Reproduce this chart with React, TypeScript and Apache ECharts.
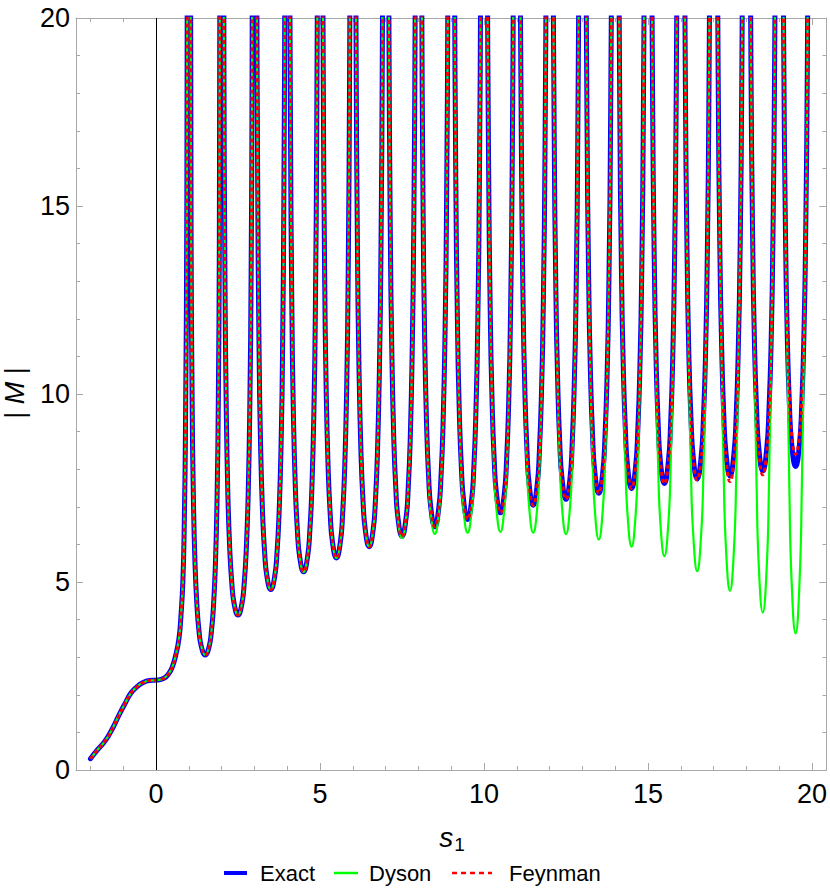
import React, { useEffect, useRef } from "react";
import * as echarts from "echarts";

// Read-off points of the smooth part before the first pole (shared by all three curves)
const leadIn: [number, number][] = [
  [-2.0, 0.3], [-1.8, 0.52], [-1.53, 0.8], [-1.3, 1.15], [-1.13, 1.46], [-0.95, 1.76],
  [-0.77, 2.04], [-0.6, 2.2], [-0.41, 2.32], [-0.2, 2.38], [0, 2.39], [0.24, 2.44],
  [0.4, 2.58], [0.5, 2.75], [0.6, 3.05], [0.7, 3.5], [0.76, 4.1], [0.82, 5.05],
  [0.86, 6.5], [0.9, 9.3], [0.94, 15.2], [0.97, 30],
];

// left pole of each dip, and the sample offsets read inside every dip
const dipStarts = [1, 2, 3, 4, 5, 6, 7, 8, 9, 10, 11, 12, 13, 14, 15, 16, 17, 18, 19];
const offsets = [0.04, 0.07, 0.1, 0.14, 0.19, 0.25, 0.31, 0.38, 0.5, 0.62, 0.69, 0.75, 0.81, 0.86, 0.9, 0.93, 0.96];

const exactDips: number[][] = [
  [24.4, 14.0, 9.9, 7.2, 5.45, 4.33, 3.7, 3.29, 3.06, 3.29, 3.7, 4.33, 5.45, 7.2, 9.9, 14.0, 24.4],
  [32.9, 18.9, 13.3, 9.7, 7.33, 5.83, 4.98, 4.43, 4.12, 4.43, 4.98, 5.83, 7.33, 9.7, 13.3, 18.9, 32.9],
  [38.3, 22.0, 15.6, 11.3, 8.54, 6.79, 5.8, 5.16, 4.8, 5.16, 5.8, 6.79, 8.54, 11.3, 15.6, 22.0, 38.3],
  [42.1, 24.2, 17.1, 12.4, 9.38, 7.45, 6.37, 5.67, 5.27, 5.67, 6.37, 7.45, 9.38, 12.4, 17.1, 24.2, 42.1],
  [45.0, 25.9, 18.3, 13.3, 10.0, 7.97, 6.82, 6.06, 5.64, 6.06, 6.82, 7.97, 10.0, 13.3, 18.3, 25.9, 45.0],
  [47.4, 27.3, 19.2, 14.0, 10.6, 8.4, 7.18, 6.39, 5.94, 6.39, 7.18, 8.4, 10.6, 14.0, 19.2, 27.3, 47.4],
  [49.6, 28.5, 20.1, 14.6, 11.1, 8.78, 7.51, 6.68, 6.21, 6.68, 7.51, 8.78, 11.1, 14.6, 20.1, 28.5, 49.6],
  [51.6, 29.7, 21.0, 15.2, 11.5, 9.15, 7.82, 6.96, 6.47, 6.96, 7.82, 9.15, 11.5, 15.2, 21.0, 29.7, 51.6],
  [53.1, 30.6, 21.6, 15.7, 11.9, 9.42, 8.05, 7.16, 6.66, 7.16, 8.05, 9.42, 11.9, 15.7, 21.6, 30.6, 53.1],
  [54.6, 31.4, 22.2, 16.1, 12.2, 9.67, 8.27, 7.35, 6.84, 7.35, 8.27, 9.67, 12.2, 16.1, 22.2, 31.4, 54.6],
  [56.2, 32.3, 22.8, 16.5, 12.5, 9.95, 8.51, 7.57, 7.04, 7.57, 8.51, 9.95, 12.5, 16.5, 22.8, 32.3, 56.2],
  [57.5, 33.0, 23.3, 16.9, 12.8, 10.2, 8.7, 7.74, 7.2, 7.74, 8.7, 10.2, 12.8, 16.9, 23.3, 33.0, 57.5],
  [58.7, 33.8, 23.8, 17.3, 13.1, 10.4, 8.9, 7.91, 7.36, 7.91, 8.9, 10.4, 13.1, 17.3, 23.8, 33.8, 58.7],
  [59.8, 34.4, 24.3, 17.6, 13.3, 10.6, 9.06, 8.05, 7.49, 8.05, 9.06, 10.6, 13.3, 17.6, 24.3, 34.4, 59.8],
  [60.8, 35.0, 24.7, 17.9, 13.6, 10.8, 9.21, 8.19, 7.62, 8.19, 9.21, 10.8, 13.6, 17.9, 24.7, 35.0, 60.8],
  [61.8, 35.5, 25.1, 18.2, 13.8, 10.9, 9.36, 8.32, 7.74, 8.32, 9.36, 10.9, 13.8, 18.2, 25.1, 35.5, 61.8],
  [62.4, 35.9, 25.3, 18.4, 13.9, 11.1, 9.45, 8.41, 7.82, 8.41, 9.45, 11.1, 13.9, 18.4, 25.3, 35.9, 62.4],
  [63.4, 36.5, 25.8, 18.7, 14.2, 11.2, 9.61, 8.55, 7.95, 8.55, 9.61, 11.2, 14.2, 18.7, 25.8, 36.5, 63.4],
  [64.4, 37.0, 26.1, 19.0, 14.4, 11.4, 9.76, 8.68, 8.07, 8.68, 9.76, 11.4, 14.4, 19.0, 26.1, 37.0, 64.4],
];

const dysonDips: number[][] = [
  ...exactDips.slice(0, 6),
  [49.6, 28.5, 20.1, 14.6, 11.1, 8.78, 7.5, 6.65, 6.17, 6.65, 7.5, 8.78, 11.1, 14.6, 20.1, 28.5, 49.6],
  [51.6, 29.7, 21.0, 15.2, 11.5, 9.15, 7.72, 6.8, 6.28, 6.8, 7.72, 9.15, 11.5, 15.2, 21.0, 29.7, 51.6],
  [53.1, 30.6, 21.6, 15.7, 11.9, 9.4, 7.85, 6.87, 6.31, 6.87, 7.85, 9.4, 11.9, 15.7, 21.6, 30.6, 53.1],
  [54.6, 31.4, 22.2, 16.1, 12.2, 9.62, 7.98, 6.93, 6.33, 6.93, 7.98, 9.62, 12.2, 16.1, 22.2, 31.4, 54.6],
  [56.2, 32.3, 22.8, 16.5, 12.5, 9.88, 8.1, 6.95, 6.31, 6.95, 8.1, 9.88, 12.5, 16.5, 22.8, 32.3, 56.2],
  [57.5, 33.0, 23.3, 16.9, 12.8, 10.1, 8.2, 6.97, 6.27, 6.97, 8.2, 10.1, 12.8, 16.9, 23.3, 33.0, 57.5],
  [58.7, 33.8, 23.8, 17.3, 13.1, 10.3, 8.25, 6.9, 6.13, 6.9, 8.25, 10.3, 13.1, 17.3, 23.8, 33.8, 58.7],
  [59.8, 34.4, 24.3, 17.6, 13.3, 10.4, 8.2, 6.75, 5.94, 6.75, 8.2, 10.4, 13.3, 17.6, 24.3, 34.4, 59.8],
  [60.8, 35.0, 24.7, 17.9, 13.6, 10.5, 8.1, 6.55, 5.69, 6.55, 8.1, 10.5, 13.6, 17.9, 24.7, 35.0, 60.8],
  [61.8, 35.5, 25.1, 18.2, 13.8, 10.6, 7.95, 6.25, 5.29, 6.25, 7.95, 10.6, 13.8, 18.2, 25.1, 35.5, 61.8],
  [62.4, 35.9, 25.3, 18.4, 13.9, 10.7, 7.8, 5.85, 4.76, 5.85, 7.8, 10.7, 13.9, 18.4, 25.3, 35.9, 62.4],
  [63.4, 36.5, 25.8, 18.7, 14.2, 10.9, 7.65, 5.4, 4.19, 5.4, 7.65, 10.9, 14.2, 18.7, 25.8, 36.5, 63.4],
  [64.4, 37.0, 26.1, 19.0, 14.4, 11.0, 7.5, 5.0, 3.63, 5.0, 7.5, 11.0, 14.4, 19.0, 26.1, 37.0, 64.4],
];

const feynmanDips: number[][] = [
  ...exactDips.slice(0, 15),
  [61.8, 35.5, 25.1, 18.2, 13.8, 10.9, 9.34, 8.28, 7.72, 8.28, 9.34, 10.9, 13.8, 18.2, 25.1, 35.5, 61.8],
  [62.4, 35.9, 25.3, 18.4, 13.9, 11.0, 9.35, 8.28, 7.67, 8.28, 9.35, 11.0, 13.9, 18.4, 25.3, 35.9, 62.4],
  [63.4, 36.5, 25.8, 18.7, 14.2, 11.2, 9.5, 8.45, 7.85, 8.45, 9.5, 11.2, 14.2, 18.7, 25.8, 36.5, 63.4],
  [64.4, 37.0, 26.1, 19.0, 14.4, 11.6, 10.0, 8.9, 8.4, 8.9, 10.0, 11.6, 14.4, 19.0, 26.1, 37.0, 64.4],
];

const xMajor = [0, 5, 10, 15, 20];
const xMinor = [-2, -1, 1, 2, 3, 4, 6, 7, 8, 9, 11, 12, 13, 14, 16, 17, 18, 19];
const seriesNames = ["Exact", "Dyson", "Feynman"];

const FONT = "'Liberation Sans', Arial, sans-serif";
const FRAME = "#a8a8a8";

function buildPoints(rows: number[][]): [number, number][] {
  const pts: [number, number][] = leadIn.map((p) => [p[0], p[1]] as [number, number]);
  rows.forEach((row, i) => {
    row.forEach((y, j) => {
      pts.push([+(dipStarts[i] + offsets[j]).toFixed(3), y]);
    });
  });
  return pts;
}

export default function App() {
  const ref = useRef<HTMLDivElement>(null);
  useEffect(() => {
    if (!ref.current) return;
    const chart = echarts.init(ref.current, undefined, { renderer: "svg" });
    const xBase = { type: "value" as const, min: -2.44, max: 20.44, splitLine: { show: false } };
    const xAxes = [
      {
        ...xBase, position: "bottom",
        axisLine: { show: true, onZero: false, lineStyle: { color: FRAME, width: 1 } },
        axisTick: { show: true, inside: true, length: 7, customValues: xMajor, lineStyle: { color: FRAME } },
        axisLabel: { show: true, customValues: xMajor, color: "#000", fontSize: 27, fontFamily: FONT, margin: 10 },
      },
      {
        ...xBase, position: "bottom",
        axisLine: { show: false, onZero: false },
        axisTick: { show: true, inside: true, length: 4, customValues: xMinor, lineStyle: { color: FRAME } },
        axisLabel: { show: false },
      },
      {
        ...xBase, position: "top",
        axisLine: { show: true, onZero: false, lineStyle: { color: FRAME, width: 1 } },
        axisTick: { show: true, inside: true, length: 7, customValues: xMajor, lineStyle: { color: FRAME } },
        axisLabel: { show: false },
      },
      {
        ...xBase, position: "top",
        axisLine: { show: false, onZero: false },
        axisTick: { show: true, inside: true, length: 4, customValues: xMinor, lineStyle: { color: FRAME } },
        axisLabel: { show: false },
      },
    ];
    const yBase = {
      type: "value" as const, min: 0, max: 20, interval: 5, splitLine: { show: false },
      minorTick: { show: true, splitNumber: 5, length: 4, lineStyle: { color: FRAME } },
      axisTick: { show: true, inside: true, length: 7, lineStyle: { color: FRAME } },
      axisLine: { show: true, onZero: false, lineStyle: { color: FRAME, width: 1 } },
    };
    const yAxes = [
      { ...yBase, position: "left", axisLabel: { show: true, color: "#000", fontSize: 27, fontFamily: FONT, margin: 6 } },
      { ...yBase, position: "right", axisLabel: { show: false } },
    ];

    const mk = (name: string, rows: number[][], lineStyle: any) => ({
      name,
      type: "line",
      xAxisIndex: 0,
      yAxisIndex: 0,
      data: buildPoints(rows),
      showSymbol: false,
      symbol: "none",
      smooth: 0.5,
      clip: true,
      lineStyle,
      silent: true,
    });

    // legend (drawn as graphic: swatches + texts)
    const legendY = 873;
    const legendGraphic: any[] = [
      { type: "line", shape: { x1: 224, y1: legendY, x2: 247, y2: legendY }, style: { stroke: "#0000ff", lineWidth: 4 } },
      { type: "text", x: 260, y: legendY, style: { text: seriesNames[0], fontSize: 22, fontFamily: FONT, fill: "#000", textVerticalAlign: "middle" } },
      { type: "line", shape: { x1: 334, y1: legendY, x2: 358, y2: legendY }, style: { stroke: "#00ff00", lineWidth: 2.5 } },
      { type: "text", x: 369, y: legendY, style: { text: seriesNames[1], fontSize: 22, fontFamily: FONT, fill: "#000", textVerticalAlign: "middle" } },
      { type: "line", shape: { x1: 452, y1: legendY, x2: 492, y2: legendY }, style: { stroke: "#ff0000", lineWidth: 2.5, lineDash: [5, 4] } },
      { type: "text", x: 509, y: legendY, style: { text: seriesNames[2], fontSize: 22, fontFamily: FONT, fill: "#000", textVerticalAlign: "middle" } },
    ];

    chart.setOption({
      animation: false,
      backgroundColor: "#fff",
      grid: { left: 76, top: 18, right: 2, bottom: 126, containLabel: false },
      xAxis: xAxes,
      yAxis: yAxes,
      series: [
        {
          name: "axis0",
          type: "line",
          data: [],
          silent: true,
          z: 1,
          markLine: {
            silent: true,
            symbol: "none",
            label: { show: false },
            lineStyle: { color: "#000", width: 1, type: "solid" },
            data: [{ xAxis: 0 }],
          },
        },
        mk(seriesNames[0], exactDips, { color: "#0000ff", width: 5, join: "round", cap: "round" }),
        mk(seriesNames[1], dysonDips, { color: "#00ff00", width: 2.2, join: "round" }),
        mk(seriesNames[2], feynmanDips, { color: "#ff0000", width: 3, type: [4, 3], cap: "butt", join: "round" }),
      ],
      graphic: [
        {
          type: "text",
          x: 452,
          y: 837,
          style: {
            text: "{s|s}{sub|1}",
            textAlign: "center",
            textVerticalAlign: "middle",
            rich: {
              s: { fontSize: 28, fontStyle: "italic", fontFamily: FONT, fill: "#000", color: "#000" },
              sub: { fontSize: 19, fontFamily: FONT, fill: "#000", color: "#000", padding: [14, 0, 0, 1] },
            },
          },
        },
        {
          type: "text",
          x: 15,
          y: 393,
          rotation: Math.PI / 2,
          style: {
            text: "{b|| }{m|M}{b| |}",
            textAlign: "center",
            textVerticalAlign: "middle",
            rich: {
              b: { fontSize: 27, fontFamily: FONT, fill: "#000", color: "#000" },
              m: { fontSize: 27, fontStyle: "italic", fontFamily: FONT, fill: "#000", color: "#000" },
            },
          },
        },
        ...legendGraphic,
      ],
    });
    return () => chart.dispose();
  }, []);
  return <div ref={ref} style={{ position: "absolute", left: 0, top: 0, width: 830, height: 896 }} />;
}
